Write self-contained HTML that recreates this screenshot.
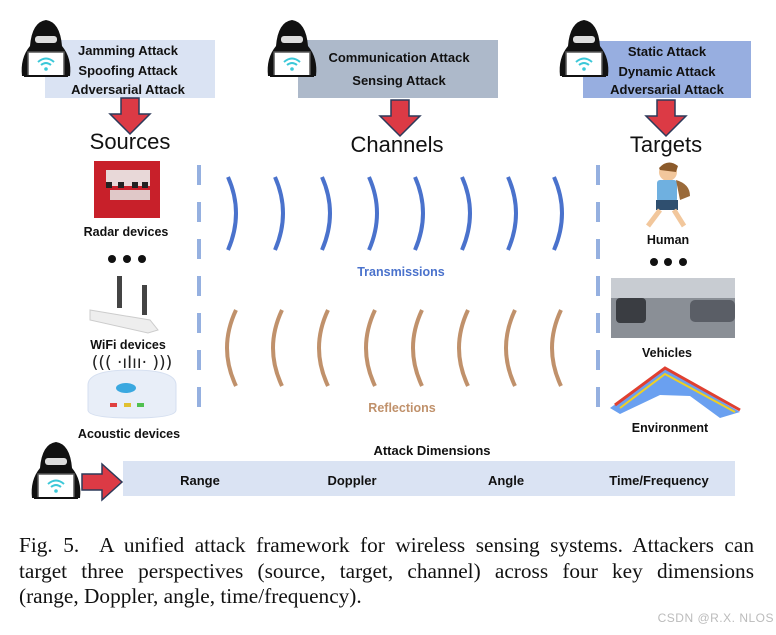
<!DOCTYPE html>
<html><head><meta charset="utf-8"><style>
body{margin:0;width:776px;height:635px;background:#fff;overflow:hidden;position:relative}
svg{position:absolute;left:0;top:0}
.t{font-family:"Liberation Sans","DejaVu Sans",sans-serif;font-weight:bold}
.cap{position:absolute;left:19px;top:533px;width:735px;font-family:"Liberation Serif",serif;font-size:21.3px;line-height:25.5px;color:#111}
.cap div{text-align:justify;text-align-last:justify;white-space:nowrap}
.cap div.l{text-align-last:left}
.wm{position:absolute;right:2px;top:611px;font-family:"Liberation Sans",sans-serif;font-size:12px;color:#bbb;letter-spacing:0.5px}
</style></head><body>
<svg width="776" height="635" viewBox="0 0 776 635">
<defs>
<g id="hk">
<path d="M2 58 Q0 40 10 28 Q12 4 26 2 Q40 4 42 28 Q52 40 50 58 Z" fill="#111"/>
<rect x="15" y="18" width="22" height="7" rx="3" fill="#ddd"/>
<rect x="8" y="34" width="36" height="24" fill="#fff" stroke="#555" stroke-width="1.5"/>
<path d="M18 44 Q26 37 34 44 M21 47 Q26 43 31 47" stroke="#3cc8d8" stroke-width="2" fill="none"/>
<circle cx="26" cy="51" r="1.8" fill="#3cc8d8"/>
<rect x="4" y="57" width="44" height="2" fill="#111"/>
</g>
<g id="ad"><path d="M-9 0 h18 v16 h11 l-20 20 l-20 -20 h11 z" fill="#dc3a45" stroke="#2d3a5a" stroke-width="1.5"/></g>
</defs>
<rect x="45" y="40" width="170" height="58" fill="#dae3f3"/>
<rect x="298" y="40" width="200" height="58" fill="#adb9ca"/>
<rect x="583" y="41" width="168" height="57" fill="#97aee0"/>
<use href="#hk" x="20" y="18"/>
<use href="#hk" x="266" y="18"/>
<use href="#hk" x="558" y="18"/>
<g class="t" font-size="13" text-anchor="middle" fill="#111">
<text x="128" y="55">Jamming Attack</text>
<text x="128" y="75">Spoofing Attack</text>
<text x="128" y="94">Adversarial Attack</text>
<text x="399" y="62">Communication Attack</text>
<text x="399" y="85">Sensing Attack</text>
<text x="667" y="56">Static Attack</text>
<text x="667" y="76">Dynamic Attack</text>
<text x="667" y="94">Adversarial Attack</text>
</g>
<use href="#ad" x="130" y="98"/>
<use href="#ad" x="400" y="100"/>
<use href="#ad" x="666" y="100"/>
<g font-family="Liberation Sans, sans-serif" font-size="22" text-anchor="middle" fill="#111">
<text x="130" y="149">Sources</text>
<text x="397" y="152">Channels</text>
<text x="666" y="152">Targets</text>
</g>
<line x1="199" y1="165" x2="199" y2="412" stroke="#95b0e0" stroke-width="4" stroke-dasharray="20 17"/>
<line x1="598" y1="165" x2="598" y2="412" stroke="#95b0e0" stroke-width="4" stroke-dasharray="20 17"/>
<g fill="none" stroke="#4a72cc" stroke-width="4">
<path d="M228 177 Q244 213 228 250"/><path d="M275 177 Q291 213 275 250"/><path d="M322 177 Q338 213 322 250"/><path d="M369 177 Q385 213 369 250"/><path d="M415 177 Q431 213 415 250"/><path d="M462 177 Q478 213 462 250"/><path d="M508 177 Q524 213 508 250"/><path d="M554 177 Q570 213 554 250"/>
</g>
<g fill="none" stroke="#c0916b" stroke-width="4">
<path d="M236 310 Q218 348 236 386"/><path d="M282 310 Q264 348 282 386"/><path d="M328 310 Q310 348 328 386"/><path d="M375 310 Q357 348 375 386"/><path d="M422 310 Q404 348 422 386"/><path d="M468 310 Q450 348 468 386"/><path d="M515 310 Q497 348 515 386"/><path d="M561 310 Q543 348 561 386"/>
</g>
<g class="t" font-size="12.5" text-anchor="middle">
<text x="401" y="276" fill="#4a72cc">Transmissions</text>
<text x="402" y="412" fill="#c0916b">Reflections</text>
</g>
<rect x="94" y="161" width="66" height="57" fill="#c8202a"/>
<rect x="106" y="170" width="44" height="16" fill="#e8d8d8"/>
<rect x="110" y="190" width="40" height="10" fill="#e0c8c8"/>
<g fill="#222"><rect x="106" y="182" width="6" height="6"/><rect x="118" y="182" width="6" height="6"/><rect x="132" y="182" width="6" height="6"/><rect x="142" y="182" width="6" height="6"/></g>
<rect x="117" y="276" width="5" height="32" fill="#444"/><rect x="142" y="285" width="5" height="30" fill="#444"/>
<path d="M90 310 L150 320 L158 330 L148 333 L90 320 Z" fill="#eee" stroke="#ccc"/>
<path d="M88 385 Q88 370 132 370 Q176 370 176 385 L176 410 Q176 418 132 418 Q88 418 88 410 Z" fill="#e8eef8" stroke="#d5dff0"/>
<ellipse cx="126" cy="388" rx="10" ry="5" fill="#3aa8e0"/>
<rect x="110" y="403" width="7" height="4" fill="#e04040"/><rect x="124" y="403" width="7" height="4" fill="#e0c030"/><rect x="137" y="403" width="7" height="4" fill="#50c050"/>
<text x="132" y="368" font-family="DejaVu Sans" font-size="17" text-anchor="middle" fill="#222">((( ·ıIıı· )))</text>
<g class="t" font-size="12.5" text-anchor="middle" fill="#111">
<text x="126" y="236">Radar devices</text>
<text x="128" y="349">WiFi devices</text>
<text x="129" y="438">Acoustic devices</text>
<text x="668" y="244">Human</text>
<text x="667" y="357">Vehicles</text>
<text x="670" y="432">Environment</text>
</g>
<g fill="#111"><circle cx="112" cy="259" r="4"/><circle cx="127" cy="259" r="4"/><circle cx="142" cy="259" r="4"/>
<circle cx="654" cy="262" r="4"/><circle cx="668" cy="262" r="4"/><circle cx="683" cy="262" r="4"/></g>
<circle cx="668" cy="172" r="9" fill="#f2c79c"/><path d="M659 168 Q668 158 678 166 L676 172 L660 170Z" fill="#8b5a2b"/>
<rect x="657" y="180" width="20" height="22" rx="3" fill="#6fb0e0"/>
<path d="M676 180 Q690 184 690 196 L680 200 Z" fill="#9a6a3a"/>
<rect x="656" y="200" width="22" height="10" fill="#2f4f6f"/>
<path d="M660 210 L648 226 M674 210 L684 226" stroke="#f2c79c" stroke-width="5"/>
<rect x="611" y="278" width="124" height="60" fill="#8a8f96"/>
<rect x="611" y="278" width="124" height="20" fill="#c8ccd2"/>
<rect x="616" y="298" width="30" height="25" rx="4" fill="#3a3d42"/>
<rect x="690" y="300" width="45" height="22" rx="5" fill="#5a5e66"/>
<path d="M610 408 L665 368 L685 380 L740 412 L720 418 L690 396 L660 395 L620 414 Z" fill="#6aa0f0"/>
<path d="M615 405 L665 368 L740 410" fill="none" stroke="#e04030" stroke-width="3"/>
<path d="M620 408 L665 374 L735 412" fill="none" stroke="#f0d020" stroke-width="2"/>
<use href="#hk" x="30" y="440"/>
<path d="M82 474 h20 v-10 l20 18 l-20 18 v-10 h-20 z" fill="#dc3a45" stroke="#2d3a5a" stroke-width="1.5"/>
<rect x="123" y="461" width="612" height="35" fill="#dae3f3"/>
<g class="t" font-size="13" text-anchor="middle" fill="#111">
<text x="432" y="455">Attack Dimensions</text>
<text x="200" y="485">Range</text>
<text x="352" y="485">Doppler</text>
<text x="506" y="485">Angle</text>
<text x="659" y="485">Time/Frequency</text>
</g>
</svg>
<div class="cap"><div>Fig. 5.&nbsp; A unified attack framework for wireless sensing systems. Attackers can</div><div>target three perspectives (source, target, channel) across four key dimensions</div><div class="l">(range, Doppler, angle, time/frequency).</div></div>
<div class="wm">CSDN @R.X. NLOS</div>
</body></html>
